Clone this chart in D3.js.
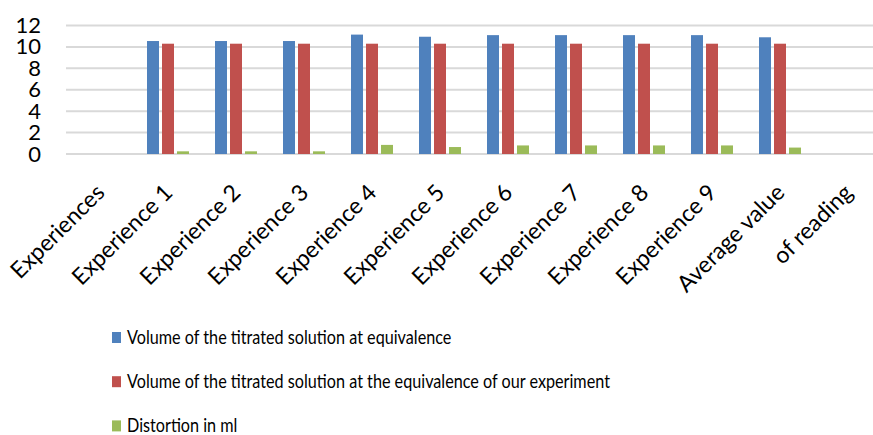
<!DOCTYPE html>
<html>
<head>
<meta charset="utf-8">
<script src="https://cdn.jsdelivr.net/npm/d3@7"></script>
<style>
  body { margin: 0; background: #fff; }
  svg { display: block; font-family: Lato, 'Open Sans', sans-serif; }
</style>
</head>
<body>
<svg id="chart" width="873" height="435"></svg>
<script>
var categories = ['Experiences', 'Experience 1', 'Experience 2', 'Experience 3', 'Experience 4',
  'Experience 5', 'Experience 6', 'Experience 7', 'Experience 8', 'Experience 9',
  'Average value', 'of reading']
var seriesNames = ['Volume of the titrated solution at equivalence',
  'Volume of the titrated solution at the equivalence of our experiment',
  'Distortion in ml']
// null where the sheet had no value
var volEquivalence = [null, 10.55, 10.55, 10.55, 11.15, 10.95, 11.1, 11.1, 11.1, 11.1, 10.9, null]
var volOurExperiment = [null, 10.3, 10.3, 10.3, 10.3, 10.3, 10.3, 10.3, 10.3, 10.3, 10.3, null]
var distortion = [null, 0.25, 0.25, 0.25, 0.85, 0.65, 0.8, 0.8, 0.8, 0.8, 0.6, null]
var yTicks = [0, 2, 4, 6, 8, 10, 12]
var colors = ['#4f81bd', '#c0504d', '#9bbb59']

var series = [volEquivalence, volOurExperiment, distortion]

var svg = d3.select('#chart')
var plotL = 66, plotR = 882, plotT = 25.5, plotB = 154

var x0 = d3.scaleBand().domain(categories).range([plotL, plotR])
var x1 = d3.scaleBand().domain(d3.range(series.length)).range([-22.5, 22.5])
var y = d3.scaleLinear().domain([0, 12]).range([plotB, plotT])

// gridlines
svg.append('g')
  .selectAll('line').data(yTicks).enter().append('line')
  .attr('x1', plotL).attr('x2', 873)
  .attr('y1', function(d) { return y(d) }).attr('y2', function(d) { return y(d) })
  .attr('stroke', '#d9d9d9').attr('stroke-width', 2)

// y axis labels
var yAxis = d3.axisLeft(y).tickValues(yTicks).tickSize(0).tickPadding(0)
svg.append('g')
  .attr('transform', 'translate(41,0)')
  .call(yAxis)
  .call(function(g) { g.select('.domain').remove() })
  .selectAll('text')
    .attr('font-family', 'Lato, sans-serif')
    .attr('font-size', 22)
    .attr('fill', '#000')

// bars
var groups = svg.append('g').selectAll('g').data(series).enter().append('g')
  .attr('fill', function(d, i) { return colors[i] })
groups.each(function(vals, si) {
  d3.select(this).selectAll('rect')
    .data(vals.map(function(v, i) { return {c: categories[i], v: v} })
      .filter(function(d) { return d.v != null }))
    .enter().append('rect')
    .attr('x', function(d) { return x0(d.c) + x0.bandwidth() / 2 + x1(si) + 1.5 })
    .attr('width', x1.bandwidth() - 3)
    .attr('y', function(d) { return y(d.v) })
    .attr('height', function(d) { return y(0) - y(d.v) })
})

// x axis labels, rotated
var xAxis = d3.axisBottom(x0).tickSize(0).tickPadding(0)
svg.append('g')
  .attr('transform', 'translate(0,' + plotB + ')')
  .call(xAxis)
  .call(function(g) { g.select('.domain').remove() })
  .selectAll('text')
    .attr('font-family', 'Lato, sans-serif')
    .attr('font-size', 23)
    .attr('fill', '#000')
    .attr('text-anchor', 'end')
    .attr('dy', null)
    .attr('y', 0)
    .attr('transform', 'translate(6,40) rotate(-45)')

// legend
var legend = svg.append('g').selectAll('g').data(seriesNames).enter().append('g')
  .attr('transform', function(d, i) { return 'translate(112,' + (337 + i * 44.2) + ')' })
legend.append('rect')
  .attr('x', 0).attr('y', -5).attr('width', 9).attr('height', 11)
  .attr('fill', function(d, i) { return colors[i] })
legend.append('text')
  .attr('transform', 'translate(15,0) scale(0.81,1)')
  .attr('dy', '0.33em')
  .attr('font-size', 20)
  .attr('fill', '#000')
  .text(function(d) { return d })
</script>
</body>
</html>
